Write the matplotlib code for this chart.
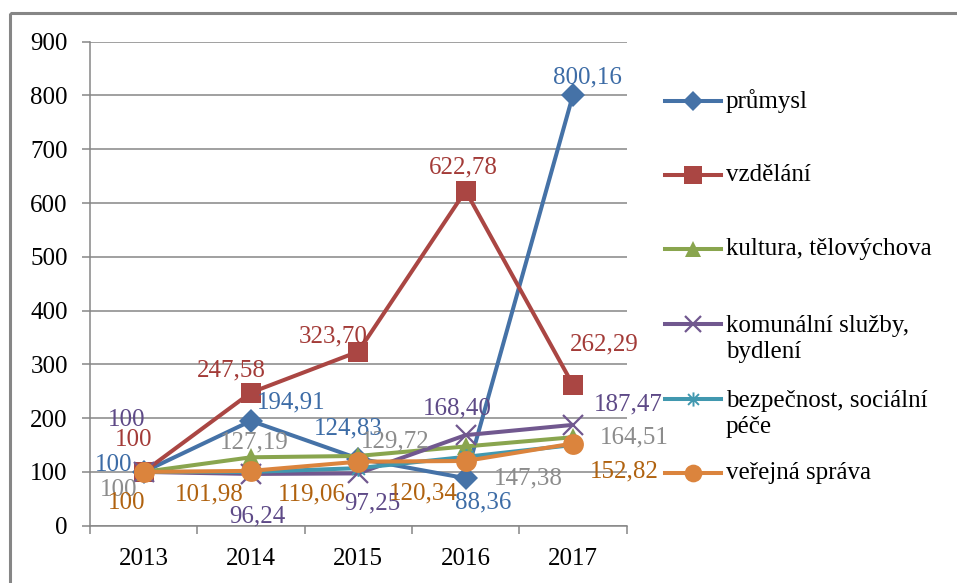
import matplotlib
matplotlib.use("Agg")
import matplotlib.pyplot as plt
from matplotlib.path import Path
from matplotlib.patches import Rectangle
from matplotlib.lines import Line2D

plt.rcParams['font.family'] = ['Liberation Serif', 'DejaVu Serif']

years = ["2013", "2014", "2015", "2016", "2017"]
prumysl = [100, 194.91, 124.83, 88.36, 800.16]
vzdelani = [100, 247.58, 323.70, 622.78, 262.29]
kultura = [100, 127.19, 129.72, 147.38, 164.51]
komunalni = [100, 96.24, 97.25, 168.40, 187.47]
bezpecnost = [100, 100, 107, 128, 150]
verejna = [100, 101.98, 119.06, 120.34, 152.82]

names = ["průmysl", "vzdělání", "kultura, tělovýchova",
         "komunální služby,\nbydlení", "bezpečnost, sociální\npéče", "veřejná správa"]
series = [prumysl, vzdelani, kultura, komunalni, bezpecnost, verejna]

# asterisk marker (x + vertical line)
ast = Path([(-1, -1), (1, 1), (-1, 1), (1, -1), (0, -1.3), (0, 1.3)],
           [Path.MOVETO, Path.LINETO, Path.MOVETO, Path.LINETO, Path.MOVETO, Path.LINETO])

styles = [
    dict(color="#4572A7", marker="D", ms=12.5, mew=0),
    dict(color="#AA4643", marker="s", ms=14.5, mew=0),
    dict(color="#89A54E", marker="^", ms=13, mew=0),
    dict(color="#71588F", marker="x", ms=14, mew=1.6),
    dict(color="#4198AF", marker=ast, ms=12, mew=1.4),
    dict(color="#DB843D", marker="o", ms=15, mew=0),
]
label_colors = ["#3D6CA6", "#A33B38", "#8C8C8C", "#5E4A87", None, "#B0620F"]

# label offsets in pixels (dx right, dy up)
offsets = [
    [(-30, 7), (40, 18), (-10, 30), (18, -24), (15, 18)],
    [(-10, 32), (-20, 22), (-25, 15), (-2, 23), (31, 40)],
    [(-25, -18), (3, 15), (37, 14), (63, -32), (61, 0)],
    [(-17, 52), (6, -43), (14, -30), (-8, 27), (55, 20)],
    None,
    [(-17, -31), (-42, -24), (-46, -33), (-42, -32), (51, -28)],
]

W, H = 957, 583
fig = plt.figure(figsize=(W / 100, H / 100), dpi=100)
ax = fig.add_axes([90 / W, 1 - 525.7 / H, (626.5 - 90) / W, (525.7 - 41.7) / H])

FS = 18
grid_c = "#868686"
x = list(range(len(years)))
for s, st in zip(series, styles):
    ax.plot(x, s, lw=2.9, color=st["color"], marker=st["marker"], ms=st["ms"],
            mew=st["mew"], mec=st["color"], mfc=st["color"], solid_capstyle="round", zorder=3)

for s, offs, lc in zip(series, offsets, label_colors):
    if offs is None:
        continue
    for i, v in enumerate(s):
        txt = ("%.2f" % v).replace(".", ",") if v != 100 else "100"
        ax.annotate(txt, (i, v), xytext=offs[i], textcoords="offset pixels",
                    ha="center", va="center", color=lc, fontsize=FS, zorder=5)

ax.set_xlim(-0.5, 4.5)
ax.set_ylim(0, 900)
ax.set_yticks(range(0, 901, 100))
ax.set_xticks(x)
ax.set_xticklabels(years)
ax.set_xticks([i - 0.5 for i in range(len(years) + 1)], minor=True)
ax.tick_params(axis="x", which="major", length=0, pad=16, labelsize=FS)
ax.tick_params(axis="x", which="minor", length=6, width=1.1, color=grid_c, direction="out")
ax.tick_params(axis="y", length=6, width=1.1, color=grid_c, pad=10, labelsize=FS)
ax.grid(axis="y", color=grid_c, lw=1.1, zorder=0)
ax.set_axisbelow(True)
for sp in ["top", "right"]:
    ax.spines[sp].set_visible(False)
for sp in ["left", "bottom"]:
    ax.spines[sp].set_color(grid_c)
    ax.spines[sp].set_linewidth(1.1)

# overlay in pixel coordinates for frame and legend
ov = fig.add_axes([0, 0, 1, 1], facecolor="none")
ov.set_xlim(0, W)
ov.set_ylim(H, 0)
ov.axis("off")
ov.add_patch(Rectangle((10, 12.5), 1000, 700, fill=False, ec=grid_c, lw=2.2))

leg_y = [101, 175, 249, 339, 414, 473]
for (name, st, ly) in zip(names, styles, leg_y):
    nl = name.count("\n")
    line_y = ly - (15 if nl else 0)
    ov.add_line(Line2D([665, 721], [line_y, line_y], lw=2.9, color=st["color"]))
    ov.add_line(Line2D([693], [line_y], marker=st["marker"], ms=st["ms"] * 0.85,
                       mew=st["mew"], mec=st["color"], mfc=st["color"], color=st["color"], lw=0))
    ov.text(726, ly, name, ha="left", va="center", fontsize=FS, color="black", linespacing=1.2)

fig.savefig("out.png", dpi=100)
